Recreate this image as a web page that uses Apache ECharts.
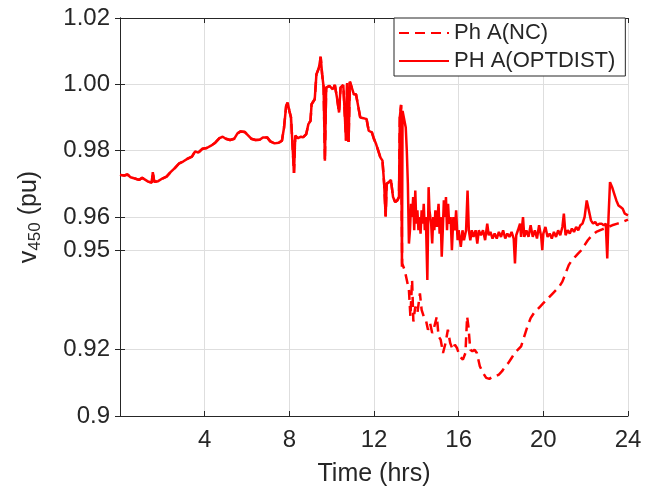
<!DOCTYPE html>
<html>
<head>
    <meta charset="utf-8">
    <title>v450 voltage</title>
    <script src="https://cdn.jsdelivr.net/npm/echarts@6.0.0/dist/echarts.min.js"></script>
    <style>
        html, body { margin: 0; padding: 0; background: #fff; }
        #chart { width: 646px; height: 496px; }
    </style>
</head>
<body>
    <div id="chart"></div>
    <script>
        // 时间 (hrs) 与电压 (pu) —— OPTDIST
        var optTime = [0.00, 0.20, 0.35, 0.50, 0.70, 0.90, 1.05, 1.20, 1.35, 1.50, 1.55, 1.62, 1.80, 2.00, 2.20, 2.40,
            2.60, 2.80, 3.00, 3.20, 3.40, 3.55, 3.70, 3.90, 4.10, 4.30, 4.50, 4.70, 4.85, 5.00, 5.20, 5.40, 5.55, 5.70,
            5.90, 6.05, 6.20, 6.40, 6.60, 6.75, 6.95, 7.10, 7.30, 7.50, 7.65, 7.75, 7.85, 7.92, 8.00, 8.08, 8.15, 8.22,
            8.28, 8.40, 8.55, 8.65, 8.80, 8.90, 9.00, 9.05, 9.20, 9.28, 9.40, 9.48, 9.55, 9.62, 9.68, 9.74, 9.90, 10.05,
            10.15, 10.25, 10.35, 10.42, 10.55, 10.62, 10.68, 10.73, 10.80, 10.86, 10.95, 11.05, 11.15, 11.25, 11.35,
            11.50, 11.65, 11.75, 11.90, 12.00, 12.10, 12.20, 12.30, 12.40, 12.48, 12.55, 12.60, 12.70, 12.80, 12.90,
            13.00, 13.10, 13.18, 13.22, 13.28, 13.32, 13.35, 13.42, 13.50, 13.55, 13.60, 13.65, 13.70, 13.75, 13.80,
            13.85, 13.90, 13.95, 14.00, 14.05, 14.10, 14.15, 14.20, 14.25, 14.30, 14.35, 14.40, 14.45, 14.52, 14.58,
            14.62, 14.70, 14.75, 14.80, 14.85, 14.90, 14.97, 15.05, 15.10, 15.15, 15.20, 15.25, 15.30, 15.35, 15.40,
            15.45, 15.50, 15.55, 15.62, 15.68, 15.75, 15.82, 15.88, 15.95, 16.00, 16.10, 16.18, 16.25, 16.35, 16.42,
            16.48, 16.55, 16.62, 16.70, 16.80, 16.88, 16.95, 17.05, 17.15, 17.25, 17.35, 17.42, 17.50, 17.60, 17.70,
            17.80, 17.90, 18.00, 18.10, 18.20, 18.30, 18.40, 18.50, 18.60, 18.66, 18.72, 18.80, 18.90, 18.95, 19.04,
            19.10, 19.20, 19.30, 19.40, 19.50, 19.60, 19.70, 19.80, 19.90, 19.95, 20.00, 20.10, 20.20, 20.30, 20.40,
            20.50, 20.60, 20.70, 20.80, 20.90, 20.97, 21.05, 21.15, 21.25, 21.35, 21.45, 21.55, 21.65, 21.75, 21.85,
            21.95, 22.05, 22.15, 22.25, 22.35, 22.45, 22.55, 22.65, 22.75, 22.85, 22.95, 23.02, 23.08, 23.15, 23.25,
            23.35, 23.45, 23.55, 23.65, 23.75, 23.85, 24.00];
        var optVolt = [0.9727, 0.9725, 0.9728, 0.9720, 0.9716, 0.9712, 0.9718, 0.9712, 0.9706, 0.9704, 0.9735, 0.9706,
            0.9708, 0.9716, 0.9722, 0.9736, 0.9748, 0.9762, 0.9768, 0.9776, 0.9782, 0.9798, 0.9794, 0.9806, 0.9808,
            0.9815, 0.9824, 0.9838, 0.9842, 0.9836, 0.9832, 0.9836, 0.9852, 0.9858, 0.9856, 0.9846, 0.9836, 0.9832,
            0.9833, 0.9840, 0.9840, 0.9828, 0.9822, 0.9824, 0.9830, 0.9870, 0.9935, 0.9945, 0.9920, 0.9900, 0.9905,
            0.9733, 0.9845, 0.9838, 0.9842, 0.9840, 0.9850, 0.9880, 0.9890, 0.9940, 0.9955, 1.0030, 1.0050, 1.0083,
            1.0030, 0.9992, 0.9770, 0.9990, 0.9995, 0.9985, 0.9998, 0.9960, 0.9915, 0.9990, 0.9998, 1.0002, 0.9830,
            1.0004, 0.9826, 1.0008, 0.9990, 0.9970, 0.9970, 0.9935, 0.9900, 0.9898, 0.9895, 0.9860, 0.9855, 0.9835,
            0.9820, 0.9800, 0.9780, 0.9770, 0.9700, 0.9602, 0.9700, 0.9705, 0.9712, 0.9660, 0.9645, 0.9650, 0.9660,
            0.9900, 0.9938, 0.9450, 0.9920, 0.9925, 0.9870, 0.9800, 0.9700, 0.9520, 0.9560, 0.9640, 0.9600, 0.9660,
            0.9560, 0.9680, 0.9580, 0.9620, 0.9560, 0.9600, 0.9550, 0.9620, 0.9580, 0.9640, 0.9560, 0.9600, 0.9410,
            0.9690, 0.9620, 0.9580, 0.9520, 0.9600, 0.9560, 0.9620, 0.9570, 0.9640, 0.9550, 0.9600, 0.9480, 0.9560,
            0.9650, 0.9600, 0.9660, 0.9560, 0.9640, 0.9580, 0.9600, 0.9500, 0.9600, 0.9560, 0.9620, 0.9530, 0.9560,
            0.9510, 0.9560, 0.9530, 0.9560, 0.9680, 0.9560, 0.9530, 0.9560, 0.9540, 0.9560, 0.9520, 0.9560, 0.9545,
            0.9560, 0.9530, 0.9580, 0.9545, 0.9555, 0.9535, 0.9550, 0.9535, 0.9555, 0.9540, 0.9560, 0.9535, 0.9550,
            0.9540, 0.9555, 0.9535, 0.9460, 0.9545, 0.9560, 0.9580, 0.9540, 0.9600, 0.9540, 0.9560, 0.9540, 0.9575,
            0.9540, 0.9560, 0.9535, 0.9575, 0.9540, 0.9500, 0.9550, 0.9570, 0.9540, 0.9550, 0.9535, 0.9555, 0.9540,
            0.9560, 0.9545, 0.9570, 0.9610, 0.9545, 0.9560, 0.9550, 0.9565, 0.9555, 0.9570, 0.9560, 0.9575, 0.9580,
            0.9600, 0.9650, 0.9620, 0.9590, 0.9580, 0.9585, 0.9575, 0.9580, 0.9580, 0.9575, 0.9580, 0.9475, 0.9600,
            0.9705, 0.9690, 0.9670, 0.9650, 0.9635, 0.9630, 0.9625, 0.9610, 0.9605];

        // NC: 13.3h 之前与 OPTDIST 相同，之后单独的尾部数据
        var ncSplit = 13.30;
        var ncTailTime = [13.30, 13.33, 13.45, 13.55, 13.65, 13.72, 13.80, 13.86, 13.95, 14.05, 14.17, 14.25, 14.35,
            14.45, 14.55, 14.65, 14.75, 14.85, 14.97, 15.05, 15.15, 15.26, 15.38, 15.49, 15.60, 15.72, 15.82, 15.92,
            16.05, 16.20, 16.32, 16.40, 16.46, 16.55, 16.65, 16.75, 16.86, 17.00, 17.15, 17.30, 17.45, 17.60, 17.75,
            17.90, 18.05, 18.20, 18.35, 18.50, 18.65, 18.80, 18.95, 19.10, 19.25, 19.40, 19.55, 19.70, 19.85, 20.00,
            20.15, 20.30, 20.45, 20.60, 20.75, 20.90, 21.05, 21.20, 21.35, 21.50, 21.65, 21.80, 21.95, 22.10, 22.30,
            22.50, 22.75, 23.00, 23.25, 23.50, 23.75, 24.00];
        var ncTailVolt = [0.9700, 0.9460, 0.9440, 0.9410, 0.9380, 0.9300, 0.9410, 0.9285, 0.9330, 0.9310, 0.9370,
            0.9320, 0.9300, 0.9290, 0.9260, 0.9280, 0.9250, 0.9270, 0.9300, 0.9240, 0.9230, 0.9190, 0.9220, 0.9260,
            0.9220, 0.9200, 0.9215, 0.9205, 0.9180, 0.9170, 0.9190, 0.9300, 0.9270, 0.9200, 0.9195, 0.9200, 0.9190,
            0.9150, 0.9130, 0.9115, 0.9112, 0.9118, 0.9120, 0.9125, 0.9135, 0.9150, 0.9160, 0.9175, 0.9190, 0.9200,
            0.9210, 0.9240, 0.9270, 0.9295, 0.9310, 0.9320, 0.9330, 0.9340, 0.9350, 0.9360, 0.9370, 0.9380, 0.9390,
            0.9405, 0.9430, 0.9455, 0.9470, 0.9480, 0.9490, 0.9500, 0.9515, 0.9530, 0.9545, 0.9555, 0.9562, 0.9568,
            0.9575, 0.9580, 0.9585, 0.9592];

        // 纵轴刻度
        var yTickVals = [0.9, 0.92, 0.95, 0.96, 0.98, 1.0, 1.02];
        var yTickText = ['0.9', '0.92', '0.95', '0.96', '0.98', '1.00', '1.02'];

        var seriesNames = ['Ph A(NC)', 'PH A(OPTDIST)'];

        var optData = optTime.map(function (t, i) { return [t, optVolt[i]]; });
        var ncData = [];
        optTime.forEach(function (t, i) {
            if (t < ncSplit) ncData.push([t, optVolt[i]]);
        });
        ncTailTime.forEach(function (t, i) { ncData.push([t, ncTailVolt[i]]); });

        var txt = '#262626';
        var font = 'Liberation Sans';

        function yLabel(v) {
            for (var i = 0; i < yTickVals.length; i++) {
                if (Math.abs(yTickVals[i] - v) < 1e-6) return yTickText[i];
            }
            return '';
        }

        var chart = echarts.init(document.getElementById('chart'));
        var option = {
            animation: false,
            backgroundColor: '#fff',
            textStyle: { fontFamily: font },
            grid: { left: 120, right: 18, top: 18, bottom: 80 },
            legend: {
                orient: 'vertical',
                left: 394,
                top: 18,
                data: seriesNames,
                itemWidth: 50,
                itemHeight: 14,
                itemGap: 6,
                padding: [4, 10, 4, 4],
                backgroundColor: '#fff',
                borderColor: txt,
                borderWidth: 1,
                borderRadius: 0,
                // 只画线，不画圆点
                itemStyle: { opacity: 0 },
                textStyle: { fontFamily: font, fontSize: 22, color: txt }
            },
            xAxis: [{
                type: 'value',
                min: 0,
                max: 24,
                interval: 4,
                name: 'Time (hrs)',
                nameLocation: 'middle',
                nameGap: 46,
                nameTextStyle: { fontFamily: font, fontSize: 25, color: txt },
                axisLine: { lineStyle: { color: txt, width: 1 } },
                axisTick: { inside: true, length: 5, lineStyle: { color: txt } },
                axisLabel: {
                    fontFamily: font, fontSize: 24, color: txt, margin: 12,
                    formatter: function (v) { return v === 0 ? '' : String(v); }
                },
                splitLine: { show: true, lineStyle: { color: '#dedede', width: 1 } }
            }, {
                type: 'value',
                position: 'top',
                min: 0,
                max: 24,
                interval: 4,
                axisLine: { show: true, lineStyle: { color: txt, width: 1 } },
                axisTick: { inside: true, length: 5, lineStyle: { color: txt } },
                axisLabel: { show: false },
                splitLine: { show: false }
            }],
            yAxis: [{
                type: 'value',
                min: 0.9,
                max: 1.02,
                name: '{v|v}{s|450}{p| (pu)}',
                nameLocation: 'middle',
                nameGap: 76,
                nameRotate: 90,
                nameTextStyle: {
                    color: txt,
                    rich: {
                        v: { fontFamily: font, fontSize: 25, color: txt, lineHeight: 30 },
                        s: { fontFamily: font, fontSize: 17, color: txt, lineHeight: 14, verticalAlign: 'bottom' },
                        p: { fontFamily: font, fontSize: 25, color: txt, lineHeight: 30 }
                    }
                },
                axisLine: { show: true, lineStyle: { color: txt, width: 1 } },
                axisTick: { inside: true, length: 5, customValues: yTickVals, lineStyle: { color: txt } },
                axisLabel: {
                    fontFamily: font, fontSize: 24, color: txt, margin: 10,
                    customValues: yTickVals,
                    formatter: yLabel
                },
                splitLine: { show: true, lineStyle: { color: '#dedede', width: 1 } }
            }, {
                type: 'value',
                position: 'right',
                min: 0.9,
                max: 1.02,
                axisLine: { show: true, lineStyle: { color: txt, width: 1 } },
                axisTick: { inside: true, length: 5, customValues: yTickVals, lineStyle: { color: txt } },
                axisLabel: { show: false, customValues: yTickVals },
                splitLine: { show: false }
            }],
            series: [
                {
                    name: seriesNames[0],
                    type: 'line',
                    data: ncData,
                    symbol: 'none',
                    color: '#ff0000',
                    lineStyle: { color: '#ff0000', width: 2.5, type: [10, 6] },
                    z: 2
                },
                {
                    name: seriesNames[1],
                    type: 'line',
                    data: optData,
                    symbol: 'none',
                    color: '#ff0000',
                    lineStyle: { color: '#ff0000', width: 2.5 },
                    z: 3
                }
            ]
        };
        chart.setOption(option);
    </script>
</body>
</html>
